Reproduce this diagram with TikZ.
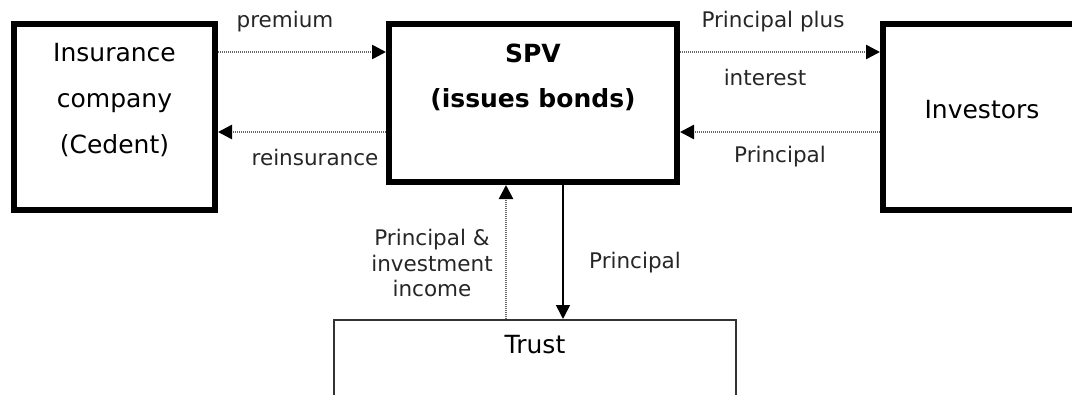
\documentclass[tikz,border=0pt]{standalone}
\usepackage{fontspec}
\setmainfont{DejaVu Sans}
\usetikzlibrary{arrows.meta}
\tikzset{
  box/.style={draw=black, line width=6pt, inner sep=0pt},
  boxtext/.style={font=\fontsize{25}{46}\selectfont, align=center, inner sep=0pt},
  lbl/.style={font=\fontsize{21.5}{25.5}\selectfont, align=center, inner sep=0pt, text=black!85},
  flow/.style={draw=black!60, line width=2.5pt, dash pattern=on 1.2pt off 0.8pt,
    -{Triangle[length=14pt,width=14pt,color=black]}},
  solidflow/.style={draw=black, line width=1.6pt, -{Triangle[length=14pt,width=14pt]}}
}
\begin{document}
\begin{tikzpicture}[x=1pt, y=-1pt]
\clip (0,0) rectangle (1072,394);
% Boxes
\node[box, minimum width=201pt, minimum height=186pt] (insurer) at (114.5,117) {};
\node[box, minimum width=288pt, minimum height=158pt] (spv) at (533,103) {};
\node[box, minimum width=217pt, minimum height=186pt] (investors) at (991.5,117) {};
\node[draw=black!80, line width=2pt, inner sep=0pt, minimum width=402pt, minimum height=200pt] (trust) at (535,420) {};
% Box texts
\node[boxtext] (insurertext) at (114.5,100) {Insurance\\company\\(Cedent)};
\node[boxtext, font=\fontsize{25}{45}\selectfont\bfseries] (spvtext) at (533,77) {SPV\\(issues bonds)};
\node[boxtext] (investorstext) at (982,110) {Investors};
\node[boxtext] (trusttext) at (535,345) {Trust};
% Rows and columns of the flows
\coordinate (toprow) at (0,52);
\coordinate (botrow) at (0,132);
\coordinate (leftcol) at (506,0);
\coordinate (rightcol) at (563,0);
% Flows
\draw[flow] (insurer.east |- toprow) -- (spv.west |- toprow);
\draw[flow] (spv.west |- botrow) -- (insurer.east |- botrow);
\draw[flow] (spv.east |- toprow) -- (investors.west |- toprow);
\draw[flow] (investors.west |- botrow) -- (spv.east |- botrow);
\draw[flow] (trust.north -| leftcol) -- (spv.south -| leftcol);
\draw[solidflow] (spv.south -| rightcol) -- (trust.north -| rightcol);
% Flow labels
\node[lbl] (premium) at (285,22) {premium};
\node[lbl] (reins) at (315,157) {reinsurance};
\node[lbl] (plus) at (773,22) {Principal plus};
\node[lbl] (interest) at (765,77) {interest};
\node[lbl] (principalin) at (780,157) {Principal};
\node[lbl] (income) at (432,263) {Principal \&\\investment\\income};
\node[lbl] (principaldown) at (635,263) {Principal};
\end{tikzpicture}
\end{document}
